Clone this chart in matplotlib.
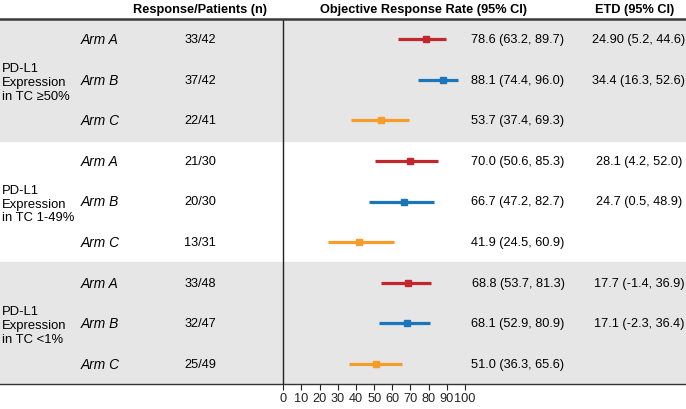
import matplotlib.pyplot as plt
from matplotlib.transforms import blended_transform_factory

plt.rcParams['font.family'] = ['Liberation Sans', 'DejaVu Sans']

# data
groups = ['PD-L1\nExpression\nin TC ≥50%', 'PD-L1\nExpression\nin TC 1-49%', 'PD-L1\nExpression\nin TC <1%']
arms = ['Arm A', 'Arm B', 'Arm C'] * 3
responders = [33, 37, 22, 21, 20, 13, 33, 32, 25]
patients = [42, 42, 41, 30, 30, 31, 48, 47, 49]
orr = [78.6, 88.1, 53.7, 70.0, 66.7, 41.9, 68.8, 68.1, 51.0]
ci_low = [63.2, 74.4, 37.4, 50.6, 47.2, 24.5, 53.7, 52.9, 36.3]
ci_high = [89.7, 96.0, 69.3, 85.3, 82.7, 60.9, 81.3, 80.9, 65.6]
etd = ['24.90 (5.2, 44.6)', '34.4 (16.3, 52.6)', '',
       '28.1 (4.2, 52.0)', '24.7 (0.5, 48.9)', '',
       '17.7 (-1.4, 36.9)', '17.1 (-2.3, 36.4)', '']
headers = ['Response/Patients (n)', 'Objective Response Rate (95% CI)', 'ETD (95% CI)']
ticks = [0, 10, 20, 30, 40, 50, 60, 70, 80, 90, 100]

colors = ['#c1272d', '#1b75bb', '#f59d2a']
W, H = 686, 410

fig = plt.figure(figsize=(W / 100, H / 100), dpi=100)
ax = fig.add_axes([0, 25 / H, 1, 365 / H])

# x: 0 -> 283.3 px, 100 -> 465 px
scale = (465 - 283.3) / 100
ax.set_xlim(-283.3 / scale, (W - 283.3) / scale)
ax.set_ylim(9, 0)

ax.axhspan(0, 3, color='#e6e6e6', zorder=0)
ax.axhspan(6, 9, color='#e6e6e6', zorder=0)
ax.axvline(0, color='#222222', lw=1.0, zorder=1)

tr = blended_transform_factory(ax.transAxes, ax.transData)
fs = 9.2

for i in range(9):
    y = i + 0.5
    c = colors[i % 3]
    ax.plot([ci_low[i], ci_high[i]], [y, y], color=c, lw=2.3, solid_capstyle='butt', zorder=2)
    ax.plot(orr[i], y, 's', color=c, ms=5, zorder=3)
    ax.text(81 / W, y, arms[i], style='italic', fontsize=9.9, va='center', ha='left', transform=tr)
    ax.text(200 / W, y, f'{responders[i]}/{patients[i]}', fontsize=fs, va='center', ha='center', transform=tr)
    ax.text(518 / W, y, f'{orr[i]:.1f} ({ci_low[i]:.1f}, {ci_high[i]:.1f})', fontsize=fs,
            va='center', ha='center', transform=tr)
    if etd[i]:
        ax.text(639 / W, y, etd[i], fontsize=fs, va='center', ha='center', transform=tr)

for g, label in enumerate(groups):
    ax.text(2 / W, g * 3 + 1.55, label, fontsize=9.4, va='center', ha='left',
            linespacing=1.2, transform=tr)

# header
hx = [200, 424, 635]
for x, h in zip(hx, headers):
    fig.text(x / W, 1 - 10 / H, h, fontsize=9.2, fontweight='bold', ha='center', va='center')

for s in ['left', 'right']:
    ax.spines[s].set_visible(False)
ax.spines['top'].set_color('#3a3a3a')
ax.spines['top'].set_linewidth(1.8)
ax.spines['bottom'].set_color('#333333')
ax.spines['bottom'].set_linewidth(1.0)

ax.set_yticks([])
ax.set_xticks(ticks)
ax.tick_params(axis='x', direction='out', length=4, width=0.8, pad=2, labelsize=fs, colors='#222222')

fig.savefig('out.png', dpi=100)
